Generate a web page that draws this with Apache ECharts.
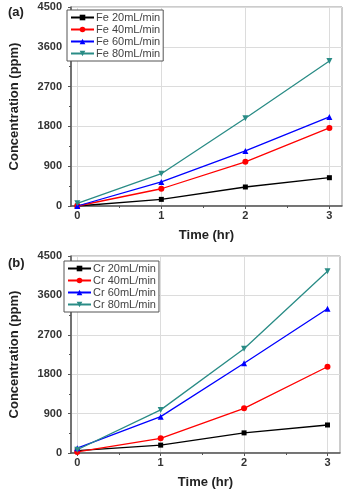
<!DOCTYPE html>
<html>
<head>
<meta charset="utf-8">
<script src="https://cdn.jsdelivr.net/npm/echarts@6/dist/echarts.min.js"></script>
<style>
  html, body { margin: 0; padding: 0; background: #fff; }
  #chart { width: 347px; height: 490px; }
</style>
</head>
<body>
<div id="chart"></div>
<script>
// time points (hr)
var times = [0, 1, 2, 3];
var yTicks = [0, 900, 1800, 2700, 3600, 4500];

// (a) Fe concentration (ppm)
var fe20 = [0, 150, 430, 640];
var fe40 = [0, 390, 1000, 1765];
var fe60 = [0, 545, 1245, 2015];
var fe80 = [60, 730, 1985, 3280];

// (b) Cr concentration (ppm)
var cr20 = [55, 180, 460, 640];
var cr40 = [25, 335, 1020, 1970];
var cr60 = [110, 830, 2050, 3295];
var cr80 = [75, 985, 2380, 4150];

var colors = ["#000000", "#ff0000", "#0000ff", "#2a8c86"];
var symbols = ["rect", "circle", "triangle", "triangle"];
var rotates = [0, 0, 0, 180];

function pairs(vals) {
  return vals.map(function (v, i) { return [times[i], v]; });
}

var font = "Liberation Sans, Arial, sans-serif";

function xAxes(gi) {
  return [
    {
      type: "value", gridIndex: gi, min: -0.075, max: 3.15,
      name: "Time (hr)", nameLocation: "middle", nameGap: 23,
      nameTextStyle: { fontFamily: font, fontWeight: "bold", fontSize: 13, color: "#222" },
      axisLine: { show: true, onZero: false, lineStyle: { color: "#555", width: 1.5 } },
      axisTick: { show: true, customValues: times, length: 3, lineStyle: { color: "#555" } },
      axisLabel: { customValues: times, margin: 4, fontFamily: font, fontWeight: "bold", fontSize: 11, color: "#333" },
      splitLine: { show: true, lineStyle: { color: "#dcdcdc", width: 1 } }
    },
    {
      // minor ticks at half hours
      type: "value", gridIndex: gi, min: -0.075, max: 3.15, position: "bottom",
      axisLine: { show: false },
      axisTick: { show: true, customValues: [0.5, 1.5, 2.5], length: 2, lineStyle: { color: "#555" } },
      axisLabel: { show: false },
      splitLine: { show: false }
    }
  ];
}

function yAxes(gi) {
  return [
    {
      type: "value", gridIndex: gi, min: 0, max: 4500, interval: 900,
      name: "Concentration (ppm)", nameLocation: "middle", nameGap: 50,
      nameTextStyle: { fontFamily: font, fontWeight: "bold", fontSize: 13, color: "#222" },
      axisLine: { show: true, onZero: false, lineStyle: { color: "#555", width: 1.5 } },
      axisTick: { show: true, length: 3, lineStyle: { color: "#555" } },
      axisLabel: {
        margin: 9, fontFamily: font, fontWeight: "bold", fontSize: 11, color: "#333",
        formatter: function (v) { return String(v); }
      },
      minorTick: { show: true, splitNumber: 2, length: 2, lineStyle: { color: "#555" } },
      splitLine: { show: true, lineStyle: { color: "#dcdcdc", width: 1 } }
    }
  ];
}

function makeSeries(names, data, gi) {
  return names.map(function (n, i) {
    return {
      name: n, type: "line", xAxisIndex: gi * 2, yAxisIndex: gi,
      data: pairs(data[i]),
      symbol: symbols[i], symbolSize: i === 0 ? 5 : 6, symbolRotate: rotates[i],
      showAllSymbol: true,
      lineStyle: { color: colors[i], width: 1.3 },
      itemStyle: { color: colors[i] },
      emphasis: { disabled: true },
      z: 2 + i
    };
  });
}

var namesA = ["Fe 20mL/min", "Fe 40mL/min", "Fe 60mL/min", "Fe 80mL/min"];
var namesB = ["Cr 20mL/min", "Cr 40mL/min", "Cr 60mL/min", "Cr 80mL/min"];

function legend(names, left, top) {
  return {
    data: names, orient: "vertical", left: left, top: top,
    padding: [2, 3, 2, 3], itemGap: 1, itemWidth: 23, itemHeight: 7,
    borderColor: "#555", borderWidth: 1, backgroundColor: "#fff",
    textStyle: { fontFamily: font, fontSize: 11, lineHeight: 11, color: "#444", padding: [0, 0, 0, -3] },
    selectedMode: false
  };
}

var chart = echarts.init(document.getElementById("chart"), null, { renderer: "canvas" });
chart.setOption({
  animation: false,
  backgroundColor: "#fff",
  title: [
    { text: "(a)", left: 3, top: 1, textStyle: { fontFamily: font, fontWeight: "bold", fontSize: 13, color: "#222" } },
    { text: "(b)", left: 3, top: 252, textStyle: { fontFamily: font, fontWeight: "bold", fontSize: 13, color: "#222" } }
  ],
  legend: [legend(namesA, 67, 10), legend(namesB, 64, 261)],
  grid: [
    { left: 66, right: 5, top: 7, height: 199, show: true, borderColor: "#999", borderWidth: 1, backgroundColor: "transparent" },
    { left: 66, right: 7, top: 256, height: 197, show: true, borderColor: "#999", borderWidth: 1, backgroundColor: "transparent" }
  ],
  xAxis: xAxes(0).concat(xAxes(1)),
  yAxis: yAxes(0).concat(yAxes(1)),
  series: makeSeries(namesA, [fe20, fe40, fe60, fe80], 0)
    .concat(makeSeries(namesB, [cr20, cr40, cr60, cr80], 1))
});
</script>
</body>
</html>
